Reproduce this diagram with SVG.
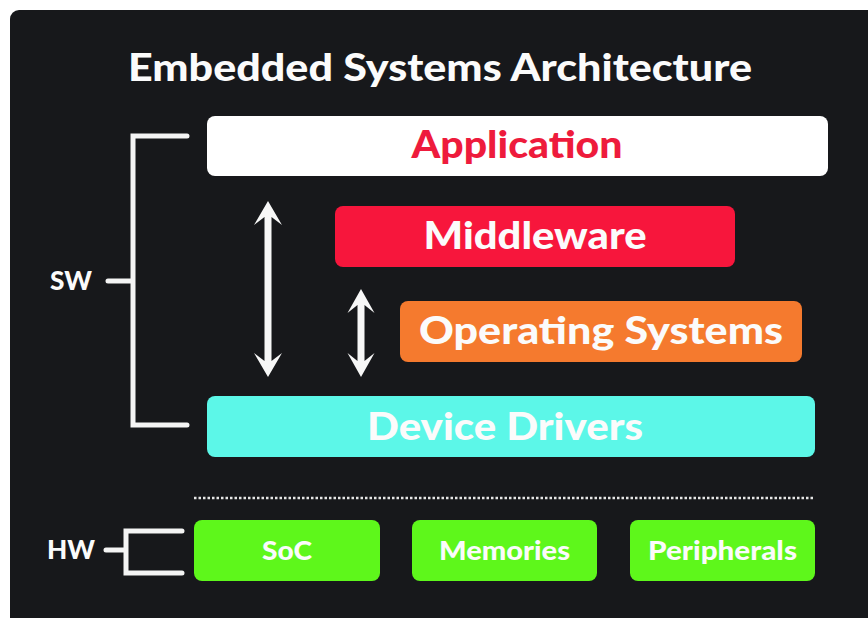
<svg xmlns="http://www.w3.org/2000/svg" width="868" height="618" viewBox="0 0 868 618">
<style>
.t{font-family:Lato,"Open Sans","Liberation Sans",sans-serif;font-weight:900;text-anchor:middle}
.w{fill:#fbfbfb}
.br{fill:none;stroke:#f4f4f4;stroke-width:5;stroke-linecap:round;stroke-linejoin:miter}
.ar{fill:#f7f7f7}
</style>
<rect x="0" y="0" width="868" height="618" fill="#ffffff"/>
<rect x="10" y="10" width="880" height="640" rx="9" fill="#17181b"/>
<text class="t w" x="440" y="81" font-size="38" textLength="624" lengthAdjust="spacingAndGlyphs">Embedded Systems Architecture</text>
<g id="application">
<rect x="207" y="116" width="621" height="60" rx="8" fill="#ffffff"/>
<text class="t" x="517" y="158" font-size="38" fill="#ee1b3c" textLength="211" lengthAdjust="spacingAndGlyphs">Application</text>
</g>
<g id="middleware">
<rect x="335" y="206" width="400" height="61" rx="8" fill="#f7163c"/>
<text class="t w" x="535" y="249" font-size="38" textLength="223" lengthAdjust="spacingAndGlyphs">Middleware</text>
</g>
<g id="os">
<rect x="400" y="301" width="402" height="61" rx="8" fill="#f57a2e"/>
<text class="t w" x="601" y="344" font-size="38" textLength="364" lengthAdjust="spacingAndGlyphs">Operating Systems</text>
</g>
<g id="drivers">
<rect x="207" y="396" width="608" height="61" rx="8" fill="#5cf7e8"/>
<text class="t w" x="505" y="440" font-size="38" textLength="276" lengthAdjust="spacingAndGlyphs">Device Drivers</text>
</g>
<g id="soc">
<rect x="194" y="520" width="186" height="61" rx="8" fill="#5ef71b"/>
<text class="t w" x="287" y="560" font-size="27" textLength="50" lengthAdjust="spacingAndGlyphs">SoC</text>
</g>
<g id="memories">
<rect x="412" y="520" width="185" height="61" rx="8" fill="#5ef71b"/>
<text class="t w" x="504.5" y="560" font-size="27" textLength="131" lengthAdjust="spacingAndGlyphs">Memories</text>
</g>
<g id="peripherals">
<rect x="630" y="520" width="185" height="61" rx="8" fill="#5ef71b"/>
<text class="t w" x="722.5" y="560" font-size="27" textLength="149" lengthAdjust="spacingAndGlyphs">Peripherals</text>
</g>
<g id="sw-label">
<text class="t w" x="71" y="290" font-size="26" textLength="42" lengthAdjust="spacingAndGlyphs">SW</text>
</g>
<g id="hw-label">
<text class="t w" x="71" y="559" font-size="26" textLength="48" lengthAdjust="spacingAndGlyphs">HW</text>
</g>
<g id="connectors">
<path class="br" d="M187,136 H133 V425 H187 M108,281 H133"/>
<path class="br" d="M182,531 H126 V573 H182 M106,550 H126"/>
<line x1="194" y1="498" x2="814" y2="498" stroke="#e6e6e6" stroke-width="2.5" stroke-dasharray="2.5 2"/>
<path class="ar" d="M268,201 L282,225 L271.5,217 V361 L282,353 L268,377 L254,353 L264.5,361 V217 L254,225 Z"/>
<path class="ar" d="M361,289 L374.5,313 L364.5,305 V361 L374.5,353 L361,377 L347.5,353 L357.5,361 V305 L347.5,313 Z"/>
</g>
</svg>
